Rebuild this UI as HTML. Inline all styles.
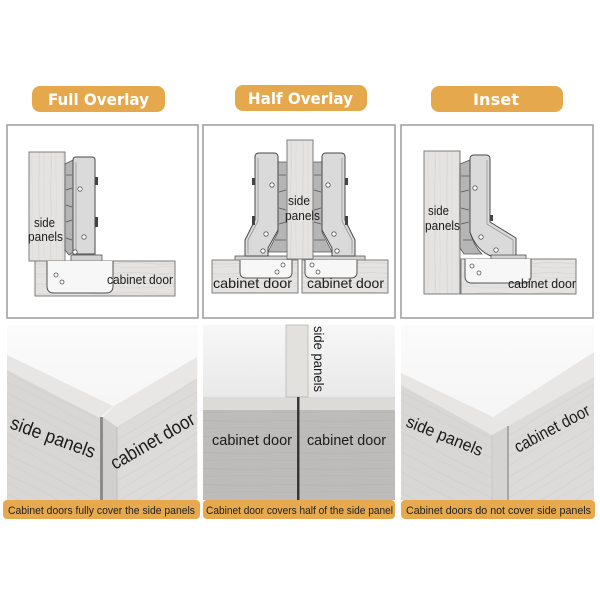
<!DOCTYPE html>
<html><head><meta charset="utf-8"><style>
html,body{margin:0;padding:0;background:#fff;}
svg{display:block;}
</style></head><body>
<svg width="600" height="600" viewBox="0 0 600 600" xmlns="http://www.w3.org/2000/svg" font-family="'Liberation Sans', sans-serif">
<defs>
 <pattern id="wh" width="60" height="10" patternUnits="userSpaceOnUse">
  <rect width="60" height="10" fill="#e5e3e1"/>
  <path d="M0,3 Q15,2 30,3.5 T60,3" stroke="#d6d4d2" stroke-width="0.8" fill="none"/>
  <path d="M0,7.5 Q20,8.5 40,7 T60,7.5" stroke="#dcdad8" stroke-width="0.7" fill="none"/>
 </pattern>
 <pattern id="wv" width="12" height="60" patternUnits="userSpaceOnUse">
  <rect width="12" height="60" fill="#e5e3e1"/>
  <path d="M3,0 C2,15 4,30 3,60" stroke="#d6d4d2" stroke-width="0.8" fill="none"/>
  <path d="M8,0 C9,20 7,40 8,60" stroke="#dcdad8" stroke-width="0.7" fill="none"/>
 </pattern>
 <pattern id="wf1" width="80" height="18" patternUnits="userSpaceOnUse" patternTransform="rotate(27)">
  <rect width="80" height="18" fill="#d9d7d5"/>
  <path d="M0,5 C20,3 40,7 80,5" stroke="#d1cfcd" stroke-width="0.8" fill="none"/>
  <path d="M0,13 C25,15 50,11 80,13" stroke="#d4d2d0" stroke-width="0.7" fill="none"/>
 </pattern>
 <pattern id="wf2" width="80" height="18" patternUnits="userSpaceOnUse" patternTransform="rotate(-31)">
  <rect width="80" height="18" fill="#dddbd9"/>
  <path d="M0,5 C20,3 40,7 80,5" stroke="#d4d2d0" stroke-width="0.8" fill="none"/>
  <path d="M0,13 C25,15 50,11 80,13" stroke="#d7d5d3" stroke-width="0.7" fill="none"/>
 </pattern>
 <pattern id="wf3" width="90" height="16" patternUnits="userSpaceOnUse">
  <rect width="90" height="16" fill="#bebcba"/>
  <path d="M0,5 C25,3 50,7 90,5" stroke="#b7b5b3" stroke-width="0.8" fill="none"/>
  <path d="M0,12 C30,14 60,10 90,12" stroke="#b9b7b5" stroke-width="0.7" fill="none"/>
 </pattern>
 <linearGradient id="bg1" x1="0" y1="0" x2="0" y2="1">
  <stop offset="0" stop-color="#fbfbfb"/><stop offset="1" stop-color="#f0f0f0"/>
 </linearGradient>
 <linearGradient id="bg2" x1="0" y1="0" x2="0" y2="1">
  <stop offset="0" stop-color="#f7f7f7"/><stop offset="1" stop-color="#e9e9e9"/>
 </linearGradient>
</defs>

<rect width="600" height="600" fill="#fff"/>

<!-- Pills -->
<rect x="32" y="86" width="133" height="26" rx="8" fill="#e5a84d"/>
<text x="48" y="105" font-family="'DejaVu Sans', sans-serif" font-weight="bold" font-size="16" fill="#fff" textLength="101" lengthAdjust="spacingAndGlyphs">Full Overlay</text>
<rect x="235" y="85" width="132" height="26" rx="8" fill="#e5a84d"/>
<text x="248" y="104" font-family="'DejaVu Sans', sans-serif" font-weight="bold" font-size="16" fill="#fff" textLength="105" lengthAdjust="spacingAndGlyphs">Half Overlay</text>
<rect x="431" y="86" width="132" height="26" rx="8" fill="#e5a84d"/>
<text x="473" y="105" font-family="'DejaVu Sans', sans-serif" font-weight="bold" font-size="16" fill="#fff" textLength="46" lengthAdjust="spacingAndGlyphs">Inset</text>

<!-- ============ TOP PANEL 1 ============ -->
<rect x="7" y="125" width="191" height="193" fill="#fff" stroke="#a2a2a2" stroke-width="1.6"/>
<rect x="29" y="152" width="36" height="109" fill="url(#wv)" stroke="#7d7d7d" stroke-width="1"/>
<path d="M65,164 L73,160 L73,252 L69,255 L65,250 Z" fill="#b5b5b5" stroke="#555" stroke-width="0.8"/>
<path d="M66,175 L72,175 M66,190 L72,188 M66,205 L72,207 M66,222 L72,220 M66,238 L72,240" stroke="#555" stroke-width="0.8"/>
<path d="M73,160 Q73,157 76,157 L92,157 Q95,157 95,160 L95,254 L73,254 Z" fill="#dadada" stroke="#4a4a4a" stroke-width="1"/>
<path d="M76,162 L76,250" stroke="#8a8a8a" stroke-width="0.7"/>
<rect x="95" y="177" width="3" height="8" fill="#444"/>
<rect x="95" y="217" width="3" height="10" fill="#444"/>
<circle cx="80" cy="189" r="2.2" fill="#fff" stroke="#555" stroke-width="0.8"/>
<circle cx="84" cy="237" r="2.2" fill="#fff" stroke="#555" stroke-width="0.8"/>
<circle cx="75" cy="252" r="2.2" fill="#fff" stroke="#555" stroke-width="0.8"/>
<rect x="71" y="255" width="31" height="6" fill="#d2d2d2" stroke="#555" stroke-width="0.8"/>
<rect x="35" y="261" width="140" height="35" fill="url(#wh)" stroke="#7d7d7d" stroke-width="1"/>
<path d="M47,261 L47,286 Q47,293 54,293 L106,293 Q113,293 113,286 L113,261" fill="#f7f7f7" stroke="#555" stroke-width="1"/>
<circle cx="56" cy="275" r="2" fill="#fff" stroke="#555" stroke-width="0.8"/>
<circle cx="62" cy="282" r="2" fill="#fff" stroke="#555" stroke-width="0.8"/>
<text x="34" y="227" font-size="13" fill="#1a1a1a" textLength="21" lengthAdjust="spacingAndGlyphs">side</text>
<text x="28" y="241" font-size="13" fill="#1a1a1a" textLength="35" lengthAdjust="spacingAndGlyphs">panels</text>
<text x="107" y="284" font-size="13" fill="#1a1a1a" textLength="66" lengthAdjust="spacingAndGlyphs">cabinet door</text>

<!-- ============ TOP PANEL 2 ============ -->
<rect x="203" y="125" width="192" height="193" fill="#fff" stroke="#a2a2a2" stroke-width="1.6"/>
<g id="lh">
 <rect x="235" y="256" width="62" height="4" fill="#d2d2d2" stroke="#555" stroke-width="0.8"/>
 <path d="M278,162 L287,162 L287,252 L268,252 L278,232 Z" fill="#b5b5b5" stroke="#555" stroke-width="0.8"/>
 <path d="M279,175 L286,175 M279,192 L286,190 M279,208 L286,210 M279,224 L286,222 M275,240 L286,240" stroke="#555" stroke-width="0.8"/>
 <path d="M255,157 Q255,153 259,153 L274,153 Q278,153 278,157 L278,230 L268,248 L268,256 L245,256 L245,240 L255,220 Z" fill="#dadada" stroke="#4a4a4a" stroke-width="1"/>
 <path d="M258,158 L258,221 L248,240 L248,254" stroke="#8a8a8a" stroke-width="0.7" fill="none"/>
 <rect x="252" y="178" width="3" height="7" fill="#444"/>
 <rect x="252" y="216" width="3" height="9" fill="#444"/>
 <circle cx="272" cy="185" r="2.2" fill="#fff" stroke="#555" stroke-width="0.8"/>
 <circle cx="266" cy="234" r="2.2" fill="#fff" stroke="#555" stroke-width="0.8"/>
 <circle cx="263" cy="251" r="2.2" fill="#fff" stroke="#555" stroke-width="0.8"/>
</g>
<use href="#lh" transform="translate(600,0) scale(-1,1)"/>
<rect x="287" y="140" width="26" height="119" fill="url(#wv)" stroke="#7d7d7d" stroke-width="1"/>
<rect x="212" y="260" width="86" height="33" fill="url(#wh)" stroke="#7d7d7d" stroke-width="1"/>
<rect x="302" y="260" width="86" height="33" fill="url(#wh)" stroke="#7d7d7d" stroke-width="1"/>
<path d="M240,260 L240,272 Q240,278 246,278 L286,278 Q292,278 292,272 L292,260" fill="#f7f7f7" stroke="#555" stroke-width="1"/>
<path d="M305,260 L305,272 Q305,278 311,278 L351,278 Q357,278 357,272 L357,260" fill="#f7f7f7" stroke="#555" stroke-width="1"/>
<circle cx="283" cy="265" r="2" fill="#fff" stroke="#555" stroke-width="0.8"/>
<circle cx="277" cy="272" r="2" fill="#fff" stroke="#555" stroke-width="0.8"/>
<circle cx="312" cy="265" r="2" fill="#fff" stroke="#555" stroke-width="0.8"/>
<circle cx="318" cy="272" r="2" fill="#fff" stroke="#555" stroke-width="0.8"/>
<text x="288" y="205" font-size="13" fill="#1a1a1a" textLength="22" lengthAdjust="spacingAndGlyphs">side</text>
<text x="285" y="220" font-size="13" fill="#1a1a1a" textLength="35" lengthAdjust="spacingAndGlyphs">panels</text>
<text x="213" y="288" font-size="14" fill="#1a1a1a" textLength="79" lengthAdjust="spacingAndGlyphs">cabinet door</text>
<text x="307" y="288" font-size="14" fill="#1a1a1a" textLength="77" lengthAdjust="spacingAndGlyphs">cabinet door</text>

<!-- ============ TOP PANEL 3 ============ -->
<rect x="401" y="125" width="192" height="193" fill="#fff" stroke="#a2a2a2" stroke-width="1.6"/>
<rect x="424" y="151" width="36" height="143" fill="url(#wv)" stroke="#7d7d7d" stroke-width="1"/>
<path d="M460,164 L470,160 L470,232 Q474,246 482,254 L464,254 L460,248 Z" fill="#b5b5b5" stroke="#555" stroke-width="0.8"/>
<path d="M461,176 L469,176 M461,192 L469,190 M461,208 L469,210 M461,224 L469,222 M463,240 L472,240" stroke="#555" stroke-width="0.8"/>
<path d="M470,159 Q470,155 474,155 L486,155 Q490,155 490,159 L490,222 L516,238 L516,256 L491,256 Q476,250 470,232 Z" fill="#dadada" stroke="#4a4a4a" stroke-width="1"/>
<path d="M487,160 L487,224 L513,240 L513,254" stroke="#8a8a8a" stroke-width="0.7" fill="none"/>
<rect x="490" y="215" width="3" height="6" fill="#444"/>
<circle cx="475" cy="188" r="2.2" fill="#fff" stroke="#555" stroke-width="0.8"/>
<circle cx="481" cy="237" r="2.2" fill="#fff" stroke="#555" stroke-width="0.8"/>
<circle cx="496" cy="250" r="2.2" fill="#fff" stroke="#555" stroke-width="0.8"/>
<rect x="491" y="255" width="35" height="4" fill="#d2d2d2" stroke="#555" stroke-width="0.8"/>
<rect x="461" y="259" width="115" height="35" fill="url(#wh)" stroke="#7d7d7d" stroke-width="1"/>
<path d="M465,259 L465,276 Q465,283 472,283 L524,283 Q531,283 531,276 L531,259" fill="#f7f7f7" stroke="#555" stroke-width="1"/>
<circle cx="472" cy="266" r="2" fill="#fff" stroke="#555" stroke-width="0.8"/>
<circle cx="479" cy="273" r="2" fill="#fff" stroke="#555" stroke-width="0.8"/>
<text x="428" y="215" font-size="13" fill="#1a1a1a" textLength="21" lengthAdjust="spacingAndGlyphs">side</text>
<text x="425" y="230" font-size="13" fill="#1a1a1a" textLength="35" lengthAdjust="spacingAndGlyphs">panels</text>
<text x="508" y="288" font-size="13" fill="#1a1a1a" textLength="68" lengthAdjust="spacingAndGlyphs">cabinet door</text>

<!-- ============ BOTTOM PANEL 1 ============ -->
<rect x="7" y="325" width="191" height="175" fill="url(#bg1)"/>
<polygon points="7,355 113,406 100,418 7,370" fill="#e8e6e4"/>
<polygon points="7,370 100,418 100,500 7,500" fill="url(#wf1)"/>
<rect x="100" y="417" width="3" height="83" fill="#8c8c8c"/>
<polygon points="103,417 114,406 197,357 197,378 117,427" fill="#e9e7e5"/>
<polygon points="103,417 117,427 117,500 103,500" fill="#d2d0ce"/>
<polygon points="117,427 197,378 197,500 117,500" fill="url(#wf2)"/>
<line x1="117" y1="427" x2="117" y2="500" stroke="#bdbbb9" stroke-width="0.8"/>
<text font-size="19" fill="#1a1a1a" transform="translate(9,428) rotate(20)" textLength="89" lengthAdjust="spacingAndGlyphs">side panels</text>
<text font-size="19" fill="#1a1a1a" transform="translate(115,470) rotate(-30)" textLength="94" lengthAdjust="spacingAndGlyphs">cabinet door</text>

<!-- ============ BOTTOM PANEL 2 ============ -->
<rect x="203" y="325" width="192" height="72" fill="url(#bg2)"/>
<rect x="203" y="397" width="192" height="13" fill="#dddbd8"/>
<rect x="203" y="410" width="192" height="90" fill="url(#wf3)"/>
<rect x="286" y="325" width="22" height="72" fill="#e3e1de" stroke="#b9b7b5" stroke-width="0.8"/>
<rect x="297" y="397" width="2.5" height="103" fill="#373737"/>
<text font-size="14" fill="#1a1a1a" transform="translate(314,326) rotate(90)" textLength="66" lengthAdjust="spacingAndGlyphs">side panels</text>
<text x="212" y="445" font-size="15" fill="#1a1a1a" textLength="80" lengthAdjust="spacingAndGlyphs">cabinet door</text>
<text x="307" y="445" font-size="15" fill="#1a1a1a" textLength="79" lengthAdjust="spacingAndGlyphs">cabinet door</text>

<!-- ============ BOTTOM PANEL 3 ============ -->
<rect x="401" y="325" width="193" height="175" fill="url(#bg1)"/>
<polygon points="493,417 594,352 594,377 508,426" fill="#e9e7e5"/>
<polygon points="508,426 594,377 594,500 508,500" fill="url(#wf2)"/>
<polygon points="401,373 493,417 508,426 492,435 401,385" fill="#e8e6e4"/>
<polygon points="401,385 492,435 492,500 401,500" fill="url(#wf1)"/>
<polygon points="492,435 508,426 508,500 492,500" fill="#d6d4d2"/>
<line x1="492" y1="435" x2="492" y2="500" stroke="#c6c4c2" stroke-width="0.8"/>
<line x1="508" y1="426" x2="508" y2="500" stroke="#8c8c8c" stroke-width="1.3"/>
<text font-size="17" fill="#1a1a1a" transform="translate(405,426) rotate(22)" textLength="81" lengthAdjust="spacingAndGlyphs">side panels</text>
<text font-size="17" fill="#1a1a1a" transform="translate(518,453) rotate(-28)" textLength="83" lengthAdjust="spacingAndGlyphs">cabinet door</text>

<!-- Captions -->
<rect x="3" y="500" width="197" height="19" rx="4" fill="#e6a94e"/>
<text x="8" y="514" font-size="11" fill="#1f1f1f" textLength="187" lengthAdjust="spacingAndGlyphs">Cabinet doors fully cover the side panels</text>
<rect x="203" y="500" width="192" height="19" rx="4" fill="#e6a94e"/>
<text x="206" y="514" font-size="11" fill="#1f1f1f" textLength="187" lengthAdjust="spacingAndGlyphs">Cabinet door covers half of the side panel</text>
<rect x="401" y="500" width="194" height="19" rx="4" fill="#e6a94e"/>
<text x="406" y="514" font-size="11" fill="#1f1f1f" textLength="185" lengthAdjust="spacingAndGlyphs">Cabinet doors do not cover side panels</text>
</svg>
</body></html>
